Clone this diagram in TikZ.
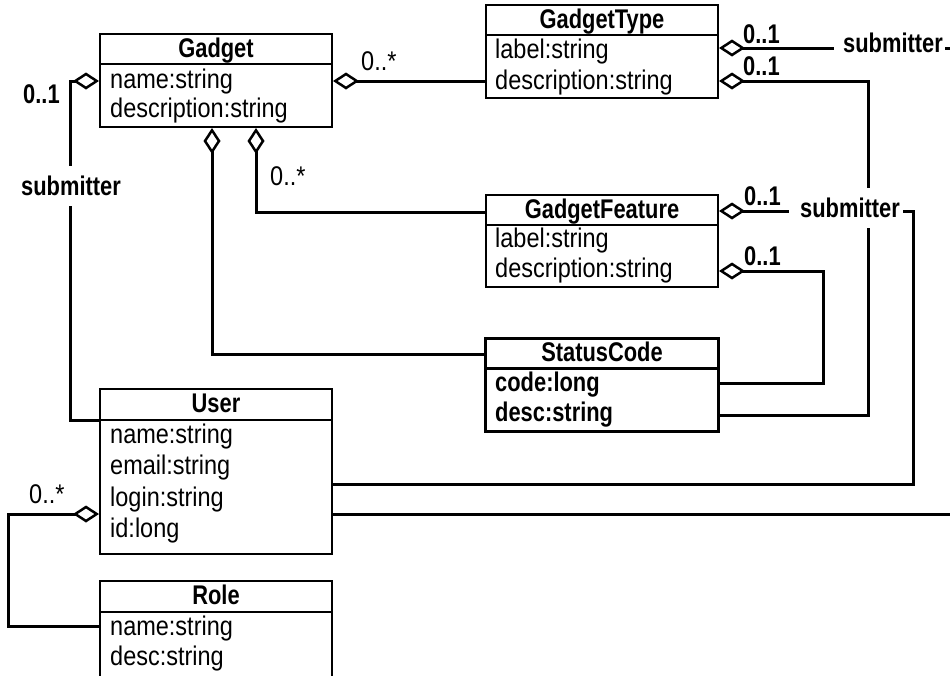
\documentclass[tikz,border=0pt]{standalone}
\usepackage{fontspec}
\setmainfont{Liberation Sans}[FakeStretch=0.87]
\newfontfamily\boldf{Liberation Sans}[FakeStretch=0.81]
\usetikzlibrary{arrows.meta}
\newcommand{\fsz}{\fontsize{27}{31}\selectfont}
\tikzset{
  cls/.style={draw, line width=2pt, inner sep=0pt},
  clsthick/.style={cls, line width=3pt},
  sepline/.style={line width=2pt},
  septhick/.style={line width=3pt},
  ttl/.style={anchor=base, inner sep=0pt, font=\boldf\bfseries\fsz},
  fld/.style={anchor=base west, inner sep=0pt, font=\fsz},
  bfld/.style={anchor=base west, inner sep=0pt, font=\boldf\bfseries\fsz},
  conn/.style={line width=3pt},
  agg/.style={conn, {Diamond[open, length=26pt, width=17pt, line width=2.5pt]}-},
  mult/.style={anchor=base west, inner sep=0pt, font=\fsz},
  bmult/.style={anchor=base west, inner sep=0pt, font=\boldf\bfseries\fsz},
  rolelbl/.style={fill=white, inner xsep=0pt, inner ysep=10pt, font=\boldf\bfseries\fsz},
}
\begin{document}
\begin{tikzpicture}[x=1pt,y=-1pt]
\clip (0,0) rectangle (950,675);
\fill[white] (0,0) rectangle (950,675);

% ---------- classes ----------
% Gadget
\node[cls, minimum width=232pt, minimum height=93pt] (gadget) at (216,80.5) {};
\draw[sepline] (100,64) -- (332,64);
\node[ttl] (gadgetT) at (216,57.5) {Gadget};
\node[fld] (gadgetA) at (110,88.5) {name:string};
\node[fld] (gadgetB) at (110,117.5) {description:string};

% GadgetType
\node[cls, minimum width=232pt, minimum height=93pt] (gtype) at (602,51.5) {};
\draw[sepline] (486,35) -- (718,35);
\node[ttl] (gtypeT) at (602,28.5) {GadgetType};
\node[fld] (gtypeA) at (495,58) {label:string};
\node[fld] (gtypeB) at (495,89) {description:string};

% GadgetFeature
\node[cls, minimum width=232pt, minimum height=92pt] (gfeat) at (602,241) {};
\draw[sepline] (486,225) -- (718,225);
\node[ttl] (gfeatT) at (602,218) {GadgetFeature};
\node[fld] (gfeatA) at (495,247) {label:string};
\node[fld] (gfeatB) at (495,277.5) {description:string};

% StatusCode
\node[clsthick, minimum width=233pt, minimum height=93pt] (status) at (602,384.5) {};
\draw[septhick] (485.5,368) -- (718.5,368);
\node[ttl] (statusT) at (602,361.5) {StatusCode};
\node[bfld] (statusA) at (495,391) {code:long};
\node[bfld] (statusB) at (495,421) {desc:string};

% User
\node[cls, minimum width=232pt, minimum height=165pt] (user) at (216,471.5) {};
\draw[sepline] (100,420) -- (332,420);
\node[ttl] (userT) at (216,412.5) {User};
\node[fld] (userA) at (110,443) {name:string};
\node[fld] (userB) at (110,474) {email:string};
\node[fld] (userC) at (110,506) {login:string};
\node[fld] (userD) at (110,537) {id:long};

% Role
\node[cls, minimum width=232pt, minimum height=119pt] (role) at (216,640.5) {};
\draw[sepline] (100,612) -- (332,612);
\node[ttl] (roleT) at (216,604.5) {Role};
\node[fld] (roleA) at (110,635) {name:string};
\node[fld] (roleB) at (110,665) {desc:string};

% ---------- free ends ----------
\coordinate (e1) at (834,48);
\coordinate (e2a) at (945,48);
\coordinate (e2b) at (950,48);
\coordinate (f1) at (789,211);
\coordinate (f2) at (903,211);
\coordinate (u9) at (950,514);

% ---------- connectors ----------
\draw[agg] (gadget.east |- 0,81) -- (gtype.west |- 0,81);
\draw[agg] (gadget.south -| 212,0) -- (212,354) -- (status.west |- 0,354);
\draw[agg] (gadget.south -| 256,0) -- (256,212) -- (gfeat.west |- 0,212);
\draw[agg] (gadget.west |- 0,81) -- (70,81) -- (70,420) -- (user.west |- 0,420);
\draw[agg] (gtype.east |- 0,48) -- (e1);
\draw[conn] (e2a) -- (e2b);
\draw[agg] (gtype.east |- 0,81) -- (868,81) -- (868,415) -- (status.east |- 0,415);
\draw[agg] (gfeat.east |- 0,211) -- (f1);
\draw[conn] (f2) -- (913,211) -- (913,484) -- (user.east |- 0,484);
\draw[agg] (gfeat.east |- 0,271) -- (823,271) -- (823,383) -- (status.east |- 0,383);
\draw[conn] (user.east |- 0,514) -- (u9);
\draw[agg] (user.west |- 0,514) -- (8,514) -- (8,626) -- (role.west |- 0,626);

% ---------- role names ----------
\node[rolelbl, anchor=base] (sub1) at (71,195.5) {submitter};
\node[rolelbl, anchor=base west, fill=none] (sub2) at (843,52.5) {submitter};
\node[rolelbl, anchor=base west] (sub3) at (800,217.5) {submitter};

% ---------- multiplicities ----------
\node[mult] (m1) at (361,70) {0..*};
\node[mult] (m2) at (270,185) {0..*};
\node[bmult] (m3) at (23,103.5) {0..1};
\node[bmult] (m4) at (743,43.5) {0..1};
\node[bmult] (m5) at (743,75.5) {0..1};
\node[bmult] (m6) at (744,205) {0..1};
\node[bmult] (m7) at (744,265) {0..1};
\node[mult] (m8) at (29,503.5) {0..*};
\end{tikzpicture}
\end{document}
